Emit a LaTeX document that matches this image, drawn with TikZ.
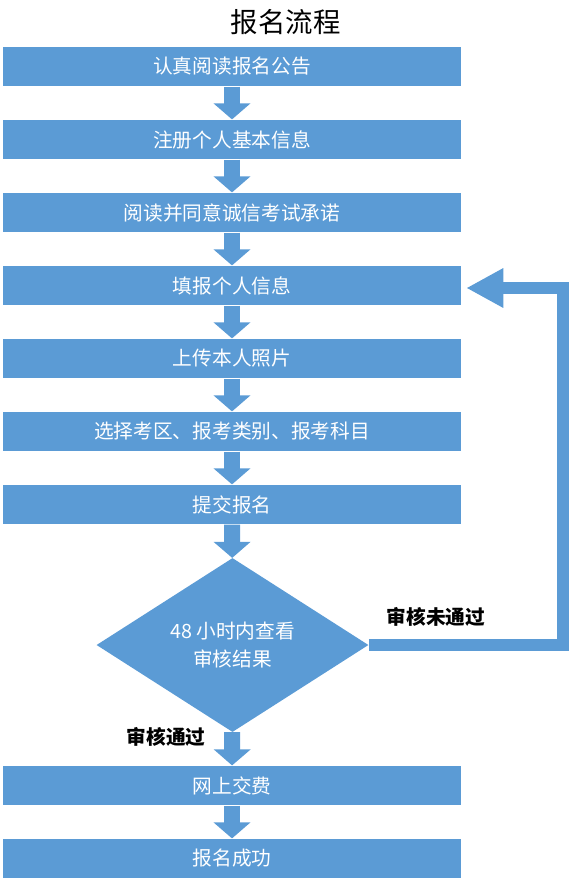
\documentclass[tikz,border=0pt]{standalone}
\usepackage{fontspec}
\setmainfont{Noto Sans CJK SC}
\usepackage{tikz}
\usetikzlibrary{arrows.meta,shapes.geometric}

\definecolor{flowblue}{RGB}{91,155,213}

\begin{document}
\begin{tikzpicture}[font=\fontsize{14}{17}\selectfont,
    box/.style={rectangle, fill=flowblue, text=white, minimum width=11.45cm,
                minimum height=0.99cm, inner sep=0pt},
    check/.style={diamond, fill=flowblue, text=white, minimum width=6.8cm,
                  minimum height=4.35cm, inner sep=0pt, align=center,
                  font=\fontsize{14}{20}\selectfont},
    down/.style={draw=flowblue, line width=0.4cm, -{Triangle[width=0.9cm, length=0.4cm]}},
    back/.style={draw=flowblue, line width=0.3cm, line join=miter,
                 -{Triangle[width=0.925cm, length=0.925cm]}, shorten >=0.125cm},
    lab/.style={font=\fontsize{14}{17}\selectfont\bfseries}]
  \useasboundingbox (0,0) rectangle (14.275,-22);
  % title
  \node (title) at (7.14,-0.55) {\fontsize{19.5}{23}\selectfont 报名流程};
  % steps
  \node[box] (notice) at (5.8,-1.6625)  {认真阅读报名公告};
  \node[box] (reg)    at (5.8,-3.4875)  {注册个人基本信息};
  \node[box] (pledge) at (5.8,-5.3125)  {阅读并同意诚信考试承诺};
  \node[box] (info)   at (5.8,-7.1375)  {填报个人信息};
  \node[box] (photo)  at (5.8,-8.9625)  {上传本人照片};
  \node[box] (choose) at (5.8,-10.7875) {选择考区、报考类别、报考科目};
  \node[box] (submit) at (5.8,-12.6125) {提交报名};
  \node[check] (audit) at (5.8125,-16.125) {48 小时内查看\\审核结果};
  \node[box] (pay)    at (5.8,-19.6375) {网上交费};
  \node[box] (done)   at (5.8,-21.4625) {报名成功};
  % labels
  \node[lab] (fail) at (10.9,-15.425) {审核未通过};
  \node[lab] (pass) at (4.15,-18.425) {审核通过};
  \coordinate (loop) at (14.075,-7.2);

  \draw[down] (notice) -- (reg);
  \draw[down] (reg) -- (pledge);
  \draw[down] (pledge) -- (info);
  \draw[down] (info) -- (photo);
  \draw[down] (photo) -- (choose);
  \draw[down] (choose) -- (submit);
  \draw[down] (submit) -- (audit);
  \draw[down] (audit) -- (pay);
  \draw[down] (pay) -- (done);
  \draw[back] (audit.east) -| (loop) -- (info.east |- loop);
\end{tikzpicture}
\end{document}
